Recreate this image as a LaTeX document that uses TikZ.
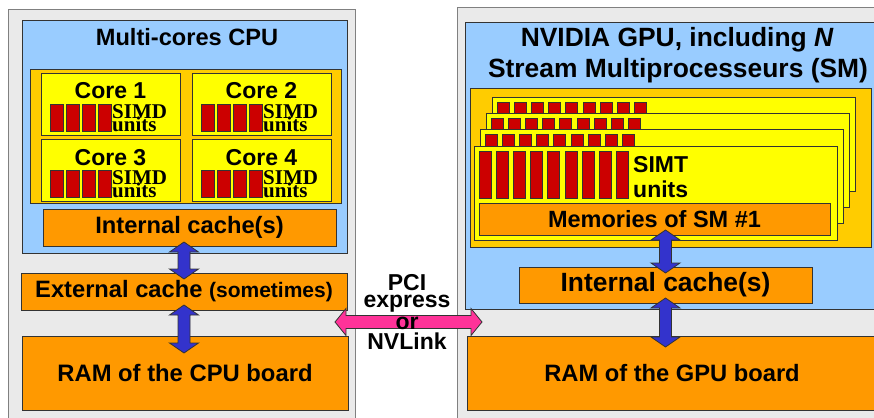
\documentclass[tikz,border=0pt]{standalone}
\usepackage{fontspec}
\setmainfont{Liberation Sans}
\newfontfamily\simdfont{Liberation Serif}
\usetikzlibrary{calc}

\definecolor{boardgray}{RGB}{234,234,234}
\definecolor{chipblue}{RGB}{153,204,255}
\definecolor{clustergold}{RGB}{255,204,0}
\definecolor{coreyellow}{RGB}{255,255,0}
\definecolor{cacheorange}{RGB}{255,153,0}
\definecolor{unitred}{RGB}{204,0,0}
\definecolor{busblue}{RGB}{51,51,204}
\definecolor{linkpink}{RGB}{255,51,153}

\newcommand{\boxtxt}[1]{\bfseries\fontsize{#1}{#1}\selectfont}
% vertical two-headed bus arrow between two points, with overlaps
\newcommand{\busarrow}[4]{%
  \draw[bus] let \p1=($(#1)+(0,-#3)$), \p2=($(#2)+(0,#4)$) in
    (\x1-6pt,\y1-10pt) -- (\x1-14.5pt,\y1-10pt) -- (\x1,\y1) -- (\x1+14.5pt,\y1-10pt) -- (\x1+6pt,\y1-10pt)
    -- (\x1+6pt,\y2+10pt) -- (\x1+14.5pt,\y2+10pt) -- (\x1,\y2) -- (\x1-14.5pt,\y2+10pt) -- (\x1-6pt,\y2+10pt) -- cycle;}

\begin{document}
\begin{tikzpicture}[x=1pt, y=-1pt,
    box/.style={draw=black!80, line width=0.8pt, inner sep=0pt, outer sep=0pt, anchor=north west},
    board/.style={box, draw=black!50, fill=boardgray},
    chip/.style={box, fill=chipblue},
    cluster/.style={box, fill=clustergold},
    core/.style={box, fill=coreyellow, minimum width=139pt, minimum height=62pt},
    smbox/.style={box, fill=coreyellow, minimum width=363pt, minimum height=94pt},
    cache/.style={box, fill=cacheorange, font=\boxtxt{23.7}},
    simd/.style={box, fill=unitred, minimum width=13pt, minimum height=27pt},
    simt/.style={box, fill=unitred, minimum width=12pt, minimum height=47pt},
    heading/.style={inner sep=0pt, anchor=base, font=\boxtxt{23}},
    simdtxt/.style={inner sep=0pt, anchor=base west, font=\simdfont\boxtxt{21}},
    bus/.style={draw=black!80, line width=0.8pt, fill=busblue},
    pcilink/.style={draw=black!80, line width=0.8pt, fill=linkpink}
]
    \useasboundingbox (0,0) rectangle (874,417);
    \clip (0,0) rectangle (874,417);

    % Boards
    \node[board, minimum width=347pt, minimum height=430pt] (cpuboard) at (8,9) {};
    \node[board, minimum width=440pt, minimum height=430pt] (gpuboard) at (457,7) {};

    % CPU side
    \node[chip, minimum width=325pt, minimum height=233pt] (cpu) at (22,20) {};
    \node[heading, font=\boxtxt{23.6}] (cputitle) at (187,46) {Multi-cores CPU};
    \node[cluster, minimum width=311pt, minimum height=134pt] (cores) at (30,69) {};
    \foreach \i/\cx/\cy in {1/41/73, 2/192/73, 3/41/139, 4/192/139} {
        \node[core] (core\i) at (\cx,\cy) {};
        \node[heading] (core\i-name) at ($(core\i.north)+(0,26)$) {Core \i};
        \foreach \b in {0,...,3}
            \node[simd] (core\i-unit\b) at ($(core\i.north west)+(9+16*\b,31)$) {};
        \node[simdtxt] (core\i-simd) at ($(core\i.north west)+(71,45)$) {SIMD};
        \node[simdtxt] (core\i-units) at ($(core\i.north west)+(71,58)$) {units};
    }
    \node[cache, minimum width=293pt, minimum height=37pt] (icache) at (43,209) {Internal cache(s)};
    \node[cache, minimum width=326pt, minimum height=37pt] (ecache) at (21,273)
        {External cache {\fontsize{21}{21}\selectfont (sometimes)}};
    \node[cache, minimum width=326pt, minimum height=74pt, font=\boxtxt{23.8}] (cpuram) at (22,336)
        {RAM of the CPU board};

    % GPU side
    \node[chip, minimum width=420pt, minimum height=287pt] (gpu) at (465,22) {};
    \node[heading, font=\boxtxt{26.4}] (gputitle1) at (677,47) {NVIDIA GPU, including {\itshape N}};
    \node[heading, font=\boxtxt{26.4}] (gputitle2) at (678,78) {Stream Multiprocesseurs (SM)};
    \node[cluster, minimum width=401pt, minimum height=159pt] (sms) at (470,88) {};
    \foreach \k in {3,2,1,0} {
        \node[smbox] (sm\k) at (474+6*\k, 146-16.3*\k) {};
        \foreach \b in {0,...,8}
            \node[simt] (sm\k-unit\b) at ($(sm\k.north west)+(5+17.2*\b,5)$) {};
    }
    \node[heading, anchor=base west] (simt1) at (633,172) {SIMT};
    \node[heading, anchor=base west] (simt2) at (633,197) {units};
    \node[cache, minimum width=351pt, minimum height=32pt, font=\boxtxt{23.5}] (smmem)
        at ($(sm0.north west)+(5,57)$) {Memories of SM \#1};
    \node[cache, minimum width=293pt, minimum height=36pt, font=\boxtxt{26.4}] (gicache) at (519,267)
        {Internal cache(s)};
    \node[cache, minimum width=410pt, minimum height=74pt] (gpuram) at (467,336) {RAM of the GPU board};

    % Buses
    \busarrow{icache.south -| ecache}{ecache.north}{4}{6}
    \busarrow{ecache.south}{cpuram.north -| ecache}{5}{17}
    \busarrow{smmem.south -| gicache}{gicache.north}{5}{6}
    \busarrow{gicache.south}{gpuram.north -| gicache}{5}{11}

    % CPU <-> GPU link
    \coordinate (pcil) at (335,322);
    \coordinate (pcir) at (482,322);
    \draw[pcilink] let \p1=(pcil), \p2=(pcir) in
        (\x1,\y1) -- (\x1+11pt,\y1+13.5pt) -- (\x1+11pt,\y1+6.5pt) -- (\x2-11pt,\y2+6.5pt)
        -- (\x2-11pt,\y2+13.5pt) -- (\x2,\y2) -- (\x2-11pt,\y2-13.5pt) -- (\x2-11pt,\y2-6.5pt)
        -- (\x1+11pt,\y1-6.5pt) -- (\x1+11pt,\y1-13.5pt) -- cycle;
    \node[inner sep=0pt, align=center, font=\bfseries\fontsize{23}{19}\selectfont] (pcitxt) at (407,312)
        {PCI\\[-2pt]express\\[3pt]or\\[1pt]NVLink};
\end{tikzpicture}
\end{document}
